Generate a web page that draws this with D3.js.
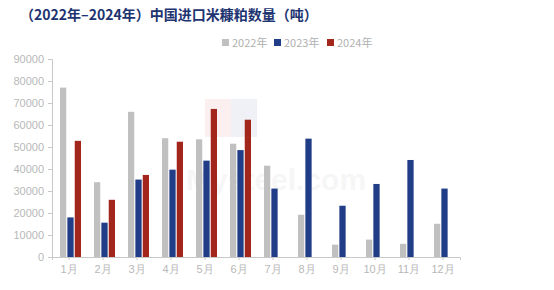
<!DOCTYPE html>
<html>
<head>
<meta charset="utf-8">
<script src="https://cdn.jsdelivr.net/npm/d3@7"></script>
<style>
  body { margin: 0; background: #fff; }
  svg { display: block; font-family: "Noto Sans CJK SC", "Liberation Sans", sans-serif; }
</style>
</head>
<body>
<svg id="chart" width="554" height="290"></svg>
<script>
// data (tonnes)
var months = ["1月", "2月", "3月", "4月", "5月", "6月", "7月", "8月", "9月", "10月", "11月", "12月"];
var seriesNames = ["2022年", "2023年", "2024年"];
var vals2022 = [77000, 34000, 66000, 54000, 53500, 51500, 41500, 19200, 5600, 7900, 6000, 15100];
var vals2023 = [18000, 15600, 35200, 39700, 43800, 48600, 31100, 53800, 23300, 33200, 44100, 31100];
var vals2024 = [52800, 26000, 37300, 52400, 67300, 62400, null, null, null, null, null, null];
var yTicks = [0, 10000, 20000, 30000, 40000, 50000, 60000, 70000, 80000, 90000];
var colors = ["#c0c0c0", "#213d87", "#a3261c"];

var svg = d3.select("#chart");
var plotLeft = 52, plotRight = 460, plotTop = 59, plotBottom = 257;

// title
svg.append("text")
  .attr("x", 20).attr("y", 20)
  .attr("fill", "#1d3470")
  .attr("font-size", 14)
  .attr("font-weight", "bold")
  .text("（2022年–2024年）中国进口米糠粕数量（吨）");

// legend
var legX = [222, 274, 327];
seriesNames.forEach(function (name, i) {
  svg.append("rect").attr("x", legX[i]).attr("y", 39).attr("width", 7).attr("height", 7).attr("fill", colors[i]);
  svg.append("text").attr("x", legX[i] + 10).attr("y", 47)
    .attr("font-size", 11).attr("fill", "#b0b0b0").text(name);
});

// faint watermark
var wm = svg.append("g").attr("opacity", 0.07);
wm.append("rect").attr("x", 205).attr("y", 99).attr("width", 26).attr("height", 38).attr("fill", "#d23b2a");
wm.append("rect").attr("x", 231).attr("y", 99).attr("width", 26).attr("height", 38).attr("fill", "#2b4a9a");
wm.append("text").attr("x", 186).attr("y", 190).attr("font-size", 30).attr("font-weight", "bold")
  .attr("fill", "#888").attr("font-family", "Liberation Sans").text("Mysteel.com");

var y = d3.scaleLinear().domain([0, 90000]).range([plotBottom, plotTop]);
var x0 = d3.scaleBand().domain(months).range([plotLeft, plotRight]).padding(0);
var x1 = d3.scaleBand().domain(seriesNames).range([8, 29]).paddingInner(0.15);

// y axis
var yAxis = svg.append("g")
  .attr("transform", "translate(" + plotLeft + ",0)")
  .call(d3.axisLeft(y).tickValues(yTicks).tickFormat(d3.format("d")).tickSize(4).tickPadding(4));
yAxis.selectAll("text").attr("fill", "#b8b8b8").attr("font-size", 11).attr("font-family", "Liberation Sans");
yAxis.selectAll("line, path").attr("stroke", "#c8c8c8");

// bars
var series = [vals2022, vals2023, vals2024];
series.forEach(function (vals, si) {
  svg.append("g").selectAll("rect")
    .data(vals.map(function (v, i) { return { m: months[i], v: v }; }).filter(function (d) { return d.v != null; }))
    .enter().append("rect")
    .attr("x", function (d) { return x0(d.m) + x1(seriesNames[si]); })
    .attr("y", function (d) { return y(d.v); })
    .attr("width", x1.bandwidth())
    .attr("height", function (d) { return plotBottom - y(d.v); })
    .attr("fill", colors[si]);
});

// x axis
var xAxis = svg.append("g")
  .attr("transform", "translate(0," + plotBottom + ")")
  .call(d3.axisBottom(x0).tickSize(3).tickPadding(5).tickSizeOuter(3));
xAxis.selectAll("text").attr("fill", "#b8b8b8").attr("font-size", 11);
xAxis.selectAll("line, path").attr("stroke", "#c8c8c8");
</script>
</body>
</html>
